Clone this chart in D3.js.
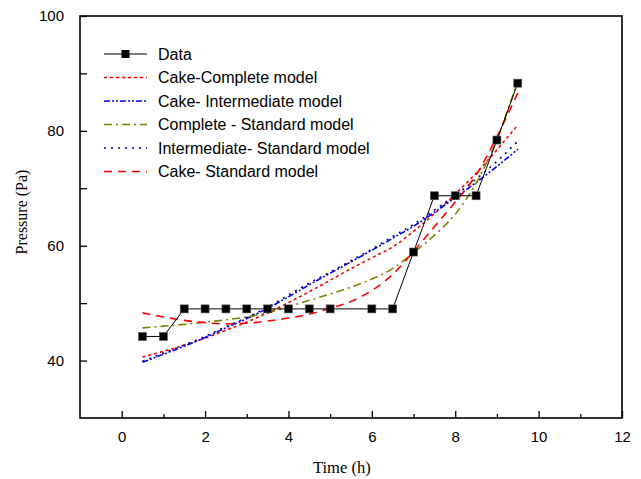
<!DOCTYPE html>
<html>
<head>
<meta charset="utf-8">
<script src="https://cdn.jsdelivr.net/npm/d3@7"></script>
<style>
body { margin: 0; background: #fff; }
svg { display: block; }
</style>
</head>
<body>
<div id="chart"></div>
<script>
// data
var dataX = [0.5, 1, 1.5, 2, 2.5, 3, 3.5, 4, 4.5, 5, 6, 6.5, 7, 7.5, 8, 8.5, 9, 9.5];
var dataY = [44.2, 44.2, 49, 49, 49, 49, 49, 49, 49, 49, 49, 49, 58.9, 68.7, 68.7, 68.7, 78.4, 88.3];

var modelX = [0.5, 1, 1.5, 2, 2.5, 3, 3.5, 4, 4.5, 5, 5.5, 6, 6.5, 7, 7.5, 8, 8.5, 9, 9.5];
var cakeComplete = [40.6, 41.6, 42.7, 43.9, 45.3, 46.7, 48.3, 50.1, 52, 54, 56, 57.9, 59.8, 62.5, 65.6, 69, 72.6, 76.7, 81];
var cakeIntermediate = [39.7, 41.1, 42.5, 44, 45.7, 47.3, 49.1, 51.1, 53.2, 55.2, 57.2, 59.2, 61.3, 63.4, 65.8, 68.4, 71, 73.8, 76.8];
var completeStandard = [45.7, 46, 46.3, 46.7, 47.1, 47.6, 48.3, 49.4, 50.5, 51.6, 52.8, 54.2, 56, 58.8, 61.8, 65.5, 70.9, 78.5, 88.7];
var intermediateStandard = [39.9, 41.3, 42.7, 44.2, 45.9, 47.5, 49.3, 51.4, 53.5, 55.4, 57.4, 59.4, 61.6, 63.7, 66.2, 68.8, 71.6, 74.7, 78.2];
var cakeStandard = [48.3, 47.6, 47, 46.6, 46.4, 46.5, 46.9, 47.4, 48.1, 49.1, 50.3, 52.2, 55, 59, 63.3, 67.6, 72.3, 79, 86.6];

var xTicks = [0, 2, 4, 6, 8, 10, 12];
var xMinor = [1, 3, 5, 7, 9, 11];
var yTicks = [40, 60, 80, 100];
var yMinor = [50, 70, 90];

var series = [
    {name: "Cake-Complete model", values: cakeComplete, color: "#ff0000", dash: "3,3"},
    {name: "Cake- Intermediate model", values: cakeIntermediate, color: "#0000ff", dash: "6,2,2,2,2,2"},
    {name: "Complete - Standard model", values: completeStandard, color: "#808000", dash: "8,4,2,4"},
    {name: "Intermediate- Standard model", values: intermediateStandard, color: "#000080", dash: "2,5"},
    {name: "Cake- Standard model", values: cakeStandard, color: "#ff0000", dash: "8,6"}
];

var W = 641, H = 479;
var pLeft = 80, pRight = 622, pTop = 16, pBottom = 418;

var svg = d3.select("#chart").append("svg")
    .attr("width", W)
    .attr("height", H);

var x = d3.scaleLinear().domain([-1, 12]).range([pLeft, pRight]);
var y = d3.scaleLinear().domain([30, 100]).range([pBottom, pTop]);

// minor ticks first, then major axes on top
svg.append("g")
    .attr("transform", "translate(0," + pBottom + ")")
    .call(d3.axisBottom(x).tickValues(xMinor).tickSize(-4).tickFormat(""));

svg.append("g")
    .attr("transform", "translate(" + pLeft + ",0)")
    .call(d3.axisLeft(y).tickValues(yMinor).tickSize(-7).tickFormat(""));

svg.append("g")
    .attr("transform", "translate(0," + pBottom + ")")
    .call(d3.axisBottom(x).tickValues(xTicks).tickSizeInner(-7).tickSizeOuter(0).tickPadding(13));

svg.append("g")
    .attr("transform", "translate(" + pLeft + ",0)")
    .call(d3.axisLeft(y).tickValues(yTicks).tickSizeInner(-7).tickSizeOuter(0).tickPadding(16));

svg.selectAll(".tick line").attr("stroke", "#000").attr("stroke-width", 1.3);
svg.selectAll(".domain").remove();
svg.selectAll(".tick text")
    .attr("font-family", "Liberation Sans, Arial, sans-serif")
    .attr("font-size", 15)
    .attr("fill", "#000");

// frame
svg.append("rect")
    .attr("x", pLeft)
    .attr("y", pTop)
    .attr("width", pRight - pLeft)
    .attr("height", pBottom - pTop)
    .attr("fill", "none")
    .attr("stroke", "#000")
    .attr("stroke-width", 1.6);

// axis titles
svg.append("text")
    .attr("x", (x(0) + x(12)) / 2 - 30)
    .attr("y", 473)
    .attr("text-anchor", "middle")
    .attr("font-family", "Liberation Serif, Times New Roman, serif")
    .attr("font-size", 16.5)
    .text("Time (h)");

svg.append("text")
    .attr("transform", "translate(27,212) rotate(-90)")
    .attr("text-anchor", "middle")
    .attr("font-family", "Liberation Serif, Times New Roman, serif")
    .attr("font-size", 16)
    .text("Pressure (Pa)");

// model curves
var line = d3.line()
    .x(function(d) { return x(d[0]); })
    .y(function(d) { return y(d[1]); })
    .curve(d3.curveMonotoneX);

series.forEach(function(s) {
    svg.append("path")
        .datum(modelX.map(function(v, i) { return [v, s.values[i]]; }))
        .attr("d", line)
        .attr("fill", "none")
        .attr("stroke", s.color)
        .attr("stroke-width", 1.6)
        .attr("stroke-dasharray", s.dash);
});

// measured data
var pts = dataX.map(function(v, i) { return [v, dataY[i]]; });
svg.append("path")
    .datum(pts)
    .attr("d", d3.line().x(function(d) { return x(d[0]); }).y(function(d) { return y(d[1]); }))
    .attr("fill", "none")
    .attr("stroke", "#000")
    .attr("stroke-width", 1);

var sq = 8; // square size
svg.selectAll("rect.pt")
    .data(pts)
    .enter()
    .append("rect")
    .attr("class", "pt")
    .attr("x", function(d) { return x(d[0]) - sq / 2; })
    .attr("y", function(d) { return y(d[1]) - sq / 2; })
    .attr("width", sq)
    .attr("height", sq)
    .attr("fill", "#000")
    .attr("stroke", "#555")
    .attr("stroke-width", 0.6);

// legend
var lx0 = 104, lx1 = 147, tx = 158, ly0 = 54, lStep = 23.5;
var legend = svg.append("g").attr("class", "legend");

legend.append("line")
    .attr("x1", lx0).attr("x2", lx1)
    .attr("y1", ly0).attr("y2", ly0)
    .attr("stroke", "#000").attr("stroke-width", 1);
legend.append("rect")
    .attr("x", (lx0 + lx1) / 2 - sq / 2)
    .attr("y", ly0 - sq / 2)
    .attr("width", sq).attr("height", sq)
    .attr("fill", "#000");
legend.append("text")
    .attr("x", tx).attr("y", ly0)
    .attr("dy", "0.36em")
    .attr("font-family", "Liberation Sans, Arial, sans-serif")
    .attr("font-size", 16)
    .text("Data");

series.forEach(function(s, i) {
    var ly = ly0 + lStep * (i + 1);
    legend.append("line")
        .attr("x1", lx0).attr("x2", lx1)
        .attr("y1", ly).attr("y2", ly)
        .attr("stroke", s.color)
        .attr("stroke-width", 1.6)
        .attr("stroke-dasharray", s.dash);
    legend.append("text")
        .attr("x", tx).attr("y", ly)
        .attr("dy", "0.36em")
        .attr("font-family", "Liberation Sans, Arial, sans-serif")
        .attr("font-size", 16)
        .text(s.name);
});
</script>
</body>
</html>
